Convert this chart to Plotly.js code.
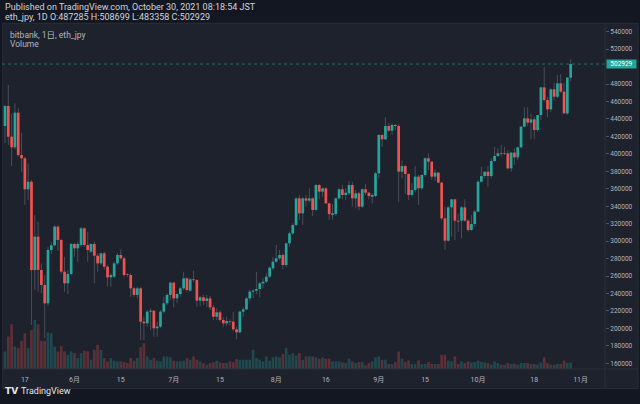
<!DOCTYPE html>
<html><head><meta charset="utf-8">
<script src="https://cdn.plot.ly/plotly-3.0.1.min.js"></script>
<style>html,body{margin:0;padding:0;background:#131722;}#chart{width:640px;height:404px;}</style>
</head><body><div id="chart"></div>
<script>
// ---- data (bitbank ETH/JPY, daily, 2021-05-11 .. 2021-10-29) ----
const startDate = [2021, 4, 11]; // 2021-05-11 (UTC)
const openP = [431900,454900,419700,407500,447200,398700,394900,359400,368100,266900,
305100,266900,249700,228700,289800,295200,316600,301300,265000,251600,
262300,296700,291700,295600,314700,295600,287900,296700,283300,274500,
286000,270700,258500,259300,274500,284100,280300,261900,261200,245900,
238300,245900,207700,205800,219200,220300,200100,202000,219200,228700,
238300,252400,234400,239400,245900,257400,243200,256200,255400,231800,
235600,231400,234400,224100,213400,218400,209600,205800,208500,207700,
198900,195500,219200,221800,234400,242100,243200,245100,251600,253500,
259300,268800,276500,280300,284100,272600,297500,308900,318500,349000,
331800,349000,346400,349000,335700,364300,356700,360500,343300,329900,
331100,349000,359400,352900,354800,364300,349000,354800,339500,359400,
355500,350900,351700,377700,421600,416700,431900,426600,433100,431900,
379600,386100,376900,352900,358600,373900,360500,375800,394900,391100,
373900,378500,367000,326100,300500,338700,347900,323400,323400,338700,
323400,312700,319600,333800,368100,374600,379600,374600,391800,397600,
400600,399800,400600,383400,401400,396000,407500,431200,440700,435800,
439600,427300,444500,476200,461700,451000,474000,465500,480800,471300,
446400,487285];
const highP = [456000,478900,446400,457900,452200,424300,396800,389100,370000,329900,
322300,274500,261200,293600,299400,318500,318100,302800,282200,266900,
298200,298200,299400,316600,315800,310800,297500,299400,286000,286800,
287900,272600,263100,276500,286000,290600,282200,263100,263100,247800,
247800,247000,213400,221100,223000,221100,207700,221100,236300,240200,
253500,253500,240900,247800,265000,258500,257400,266100,256200,237100,
238300,238300,237100,226800,223000,221100,212700,213400,210400,219200,
202000,220300,224100,235600,244000,244800,265000,253500,257400,263100,
270700,282200,295600,289800,286000,298200,310800,320400,350200,352900,
350200,352900,360500,350200,365500,365500,361600,361600,344100,342500,
350200,360500,364300,360500,369300,368100,358600,356700,360500,365500,
356700,354800,379600,422800,422800,441900,435000,435000,434200,434200,
392000,387200,377700,366200,386100,375800,376900,396000,400600,391100,
382300,379600,368100,339500,340300,347900,347900,331800,340300,347900,
325000,329900,335700,370000,385300,379600,386100,394900,408200,406300,
410200,408200,404400,402500,406300,408200,431900,453300,453300,446400,
442600,444500,477000,499900,465500,475100,481600,490400,491500,481600,
488500,508699];
const lowP = [412100,410200,386100,405200,396800,379600,341400,347100,203900,244000,
242100,240200,188600,225700,285200,293600,289100,262300,242100,239400,
260800,282200,276500,293600,293600,276500,286000,251600,265000,272600,
266900,247800,247800,257400,272600,278400,259300,259300,236300,236300,
234400,186700,186700,202000,198100,190500,190500,200100,217200,226800,
232500,224100,228700,236300,244000,242100,242100,253500,224900,225700,
226800,224100,221100,209600,209600,207700,202000,202700,203900,197000,
187500,194300,213400,221100,231800,234400,239400,235600,245900,251600,
257400,266900,275300,278400,267700,270700,293600,307000,317300,324200,
318500,339500,344100,328800,334900,347900,350900,342500,324200,324900,
328800,347900,347900,347100,352900,339500,337600,335700,337600,352900,
347900,343300,350200,372000,408200,415900,425400,421600,427300,345200,
372000,354000,347100,350900,356700,341400,358600,373900,381500,370000,
369300,366200,324200,289800,299400,305100,301300,310800,303200,322300,
310800,312000,316600,333000,367000,372000,362400,372000,391100,396800,
396800,398700,382300,379600,387200,393000,406300,430400,431900,416700,
416700,425400,438800,459800,441900,448400,461700,463600,469400,445700,
444500,483358];
const closeP = [454900,419700,407500,447200,398700,394900,359400,368100,266900,305100,
266900,249700,228700,289800,295200,316600,301300,265000,251600,262300,
296700,291700,296700,314700,295600,289800,296700,283300,274500,286000,
270700,258500,261200,274500,284100,280300,261200,261200,245900,238300,
245900,207700,205800,219200,220300,200100,202000,219200,228700,238300,
252400,234400,239400,245900,257400,244000,256200,255400,231800,235600,
231400,234400,224100,213400,218400,209600,205800,208500,207700,198900,
195500,219200,221800,234400,242100,243200,245100,251600,253500,259300,
269600,276500,280300,284100,272600,297500,308900,318500,349000,331800,
349000,346400,349000,335700,364300,356700,360500,343300,331100,331800,
349000,359400,352900,355500,364300,349000,354800,339500,359400,355500,
351700,352900,377700,421600,416700,431900,426600,433100,431900,379600,
386100,376900,352900,358600,373900,360500,375800,394900,391100,373900,
378500,367000,326100,300500,338700,347900,323400,322300,338700,323400,
312700,319600,333800,368100,374600,379600,374600,391800,397600,400600,
399800,400600,383400,401400,396000,407500,431200,440700,435800,439600,
427300,444500,476200,461700,451000,474000,465500,480800,471300,446400,
487285,502929];
const volume = [5300,9800,13500,6800,6300,8500,10800,6300,11800,14800,
13500,8500,8500,11000,10800,6800,5300,7000,5300,4300,
5300,4800,3300,4800,5500,5300,2800,5800,7300,5800,
3300,2300,3300,2500,2300,2300,2100,1800,3300,2500,
3300,6600,7800,3800,2800,3300,2500,2300,3800,3800,
3500,2500,2300,2300,2500,3300,2800,3800,2800,2300,
1800,1300,1800,2000,2500,2000,1800,1800,2300,2100,
3000,2800,2800,2800,2800,5800,3300,2800,2300,3800,
2500,3500,3800,3500,4500,6300,4300,4800,4100,4800,
2800,3800,3800,3800,3500,3100,3500,3100,3100,2300,
2300,2300,2000,1800,3100,2300,1800,2100,2100,1100,
1800,2300,3500,3800,2800,2800,1500,1500,2100,5300,
3100,2100,2600,1500,1500,2600,1500,1500,2100,1500,
1500,1500,4300,4300,2500,2300,3800,1500,2300,1800,
2300,2000,2100,2500,2100,2000,1800,1300,2300,1800,
1300,1300,1800,1500,1600,1300,1800,1800,1800,1500,
1500,1300,2000,3500,1800,1300,1300,1500,1500,2500,
1800,2000];
const xTickDates = ['2021-05-17','2021-06-01','2021-06-15','2021-07-01','2021-07-15','2021-08-01','2021-08-16','2021-09-01','2021-09-15','2021-10-01','2021-10-18','2021-11-01'];
const xTickText = ['17','6月','15','7月','15','8月','16','9月','15','10月','18','11月'];
// 500000 is hidden behind the last-price label in the original
const yTickVals = [160000,180000,200000,220000,240000,260000,280000,300000,320000,340000,360000,380000,400000,420000,440000,460000,480000,520000,540000];
const lastPrice = closeP[closeP.length - 1];

// ---- derived ----
const dates = openP.map((_, i) => new Date(Date.UTC(startDate[0], startDate[1], startDate[2] + i)).toISOString().slice(0, 10));
const UP = '#26a69a', DOWN = '#ef5350';
const isUp = openP.map((o, i) => closeP[i] >= o);
const DAY = 86400000;
const FONT = 'Roboto, "Noto Sans CJK JP", sans-serif';

const traces = [
  // volume (base axis, drawn underneath)
  { type: 'bar', x: dates, y: volume, yaxis: 'y', width: DAY * 0.8,
    marker: { color: isUp.map(u => u ? 'rgba(38,166,154,0.3)' : 'rgba(239,83,80,0.3)'), line: { width: 0 } },
    hoverinfo: 'skip' },
  // wicks (thin bars low..high), drawn before bodies
  { type: 'bar', x: dates, base: lowP, y: highP.map((h, i) => h - lowP[i]), yaxis: 'y2', width: DAY * 0.3,
    marker: { color: '#4a4e59', line: { width: 0 } }, hoverinfo: 'skip' },
  // bodies
  { type: 'bar', x: dates, base: openP.map((o, i) => Math.min(o, closeP[i])),
    y: openP.map((o, i) => Math.max(Math.abs(closeP[i] - o), 700)), yaxis: 'y2', width: DAY * 0.82,
    marker: { color: isUp.map(u => u ? UP : DOWN), line: { width: 0 } }, hoverinfo: 'skip' }
];

const L = 2, R = 35, T = 23, B = 35, W = 640, H = 404;
const pw = W - L - R, ph = H - T - B;
const px = x => (x - L) / pw;
const py = y => (H - B - y) / ph;

const layout = {
  width: W, height: H,
  margin: { l: L, r: R, t: T, b: B, pad: 0 },
  paper_bgcolor: '#131722', plot_bgcolor: 'rgba(0,0,0,0)',
  showlegend: false, barmode: 'overlay', font: { family: FONT },
  xaxis: { type: 'date', range: ['2021-05-10 02:13', '2021-11-08 09:07'],
    tickmode: 'array', tickvals: xTickDates, ticktext: xTickText,
    showgrid: false, zeroline: false, showline: false, ticks: 'outside', ticklen: 4, tickcolor: 'rgba(0,0,0,0)',
    tickfont: { size: 7, color: '#b2b5be', family: FONT }, fixedrange: true },
  yaxis: { range: [0, 104500], visible: false, fixedrange: true },
  yaxis2: { overlaying: 'y', side: 'right', range: [153454, 549970],
    tickmode: 'array', tickvals: yTickVals, tickformat: 'd',
    ticks: 'outside', ticklen: 3, tickcolor: '#50535e', tickwidth: 1,
    tickfont: { size: 6.5, color: '#b2b5be', family: FONT },
    showgrid: false, zeroline: false, showline: false, fixedrange: true },
  shapes: [
    { type: 'rect', xref: 'paper', yref: 'paper', x0: px(2.7), x1: px(638), y0: py(388.6), y1: py(23.3),
      fillcolor: '#1e222d', line: { color: '#2a2e39', width: 1 }, layer: 'below' },
    { type: 'line', xref: 'paper', yref: 'paper', x0: px(2.7), x1: px(638), y0: 0, y1: 0,
      line: { color: '#2a2e39', width: 1 } },
    { type: 'line', xref: 'paper', yref: 'paper', x0: 1, x1: 1, y0: py(388.6), y1: py(23.3),
      line: { color: '#2a2e39', width: 1 } },
    { type: 'line', xref: 'paper', yref: 'y2', x0: 0, x1: 1, y0: lastPrice, y1: lastPrice,
      line: { color: 'rgba(38,166,154,0.55)', width: 1, dash: 'dot' } }
  ],
  annotations: [
    { xref: 'paper', yref: 'paper', x: px(3), y: py(7), xanchor: 'left', yanchor: 'middle', showarrow: false,
      text: 'Published on TradingView.com, October 30, 2021 08:18:54 JST', font: { size: 9, color: '#d1d4dc', family: FONT } },
    { xref: 'paper', yref: 'paper', x: px(3), y: py(17), xanchor: 'left', yanchor: 'middle', showarrow: false,
      text: 'eth_jpy, 1D O:487285 H:508699 L:483358 C:502929', font: { size: 9, color: '#d1d4dc', family: FONT } },
    { xref: 'paper', yref: 'paper', x: px(8), y: py(35), xanchor: 'left', yanchor: 'middle', showarrow: false,
      text: 'bitbank, 1日, eth_jpy', font: { size: 8.5, color: '#b2b5be', family: FONT } },
    { xref: 'paper', yref: 'paper', x: px(8), y: py(44.5), xanchor: 'left', yanchor: 'middle', showarrow: false,
      text: 'Volume', font: { size: 8.5, color: '#b2b5be', family: FONT } },
    { xref: 'paper', yref: 'paper', x: px(2.5), y: py(391), xanchor: 'left', yanchor: 'middle', showarrow: false,
      text: '<b>TV</b>', font: { size: 9, color: '#e6e8ee', family: '"DejaVu Sans", sans-serif' } },
    { xref: 'paper', yref: 'paper', x: px(19), y: py(391), xanchor: 'left', yanchor: 'middle', showarrow: false,
      text: 'TradingView', font: { size: 9, color: '#e6e8ee', family: FONT } },
    { xref: 'paper', yref: 'y2', x: px(605.7), y: lastPrice, xanchor: 'left', yanchor: 'middle', showarrow: false,
      text: String(lastPrice), width: 29, height: 8, borderpad: 0, bgcolor: UP,
      font: { size: 6.5, color: '#ffffff', family: FONT } }
  ]
};

Plotly.newPlot('chart', traces, layout, { staticPlot: true, displayModeBar: false });
</script>
</body></html>
